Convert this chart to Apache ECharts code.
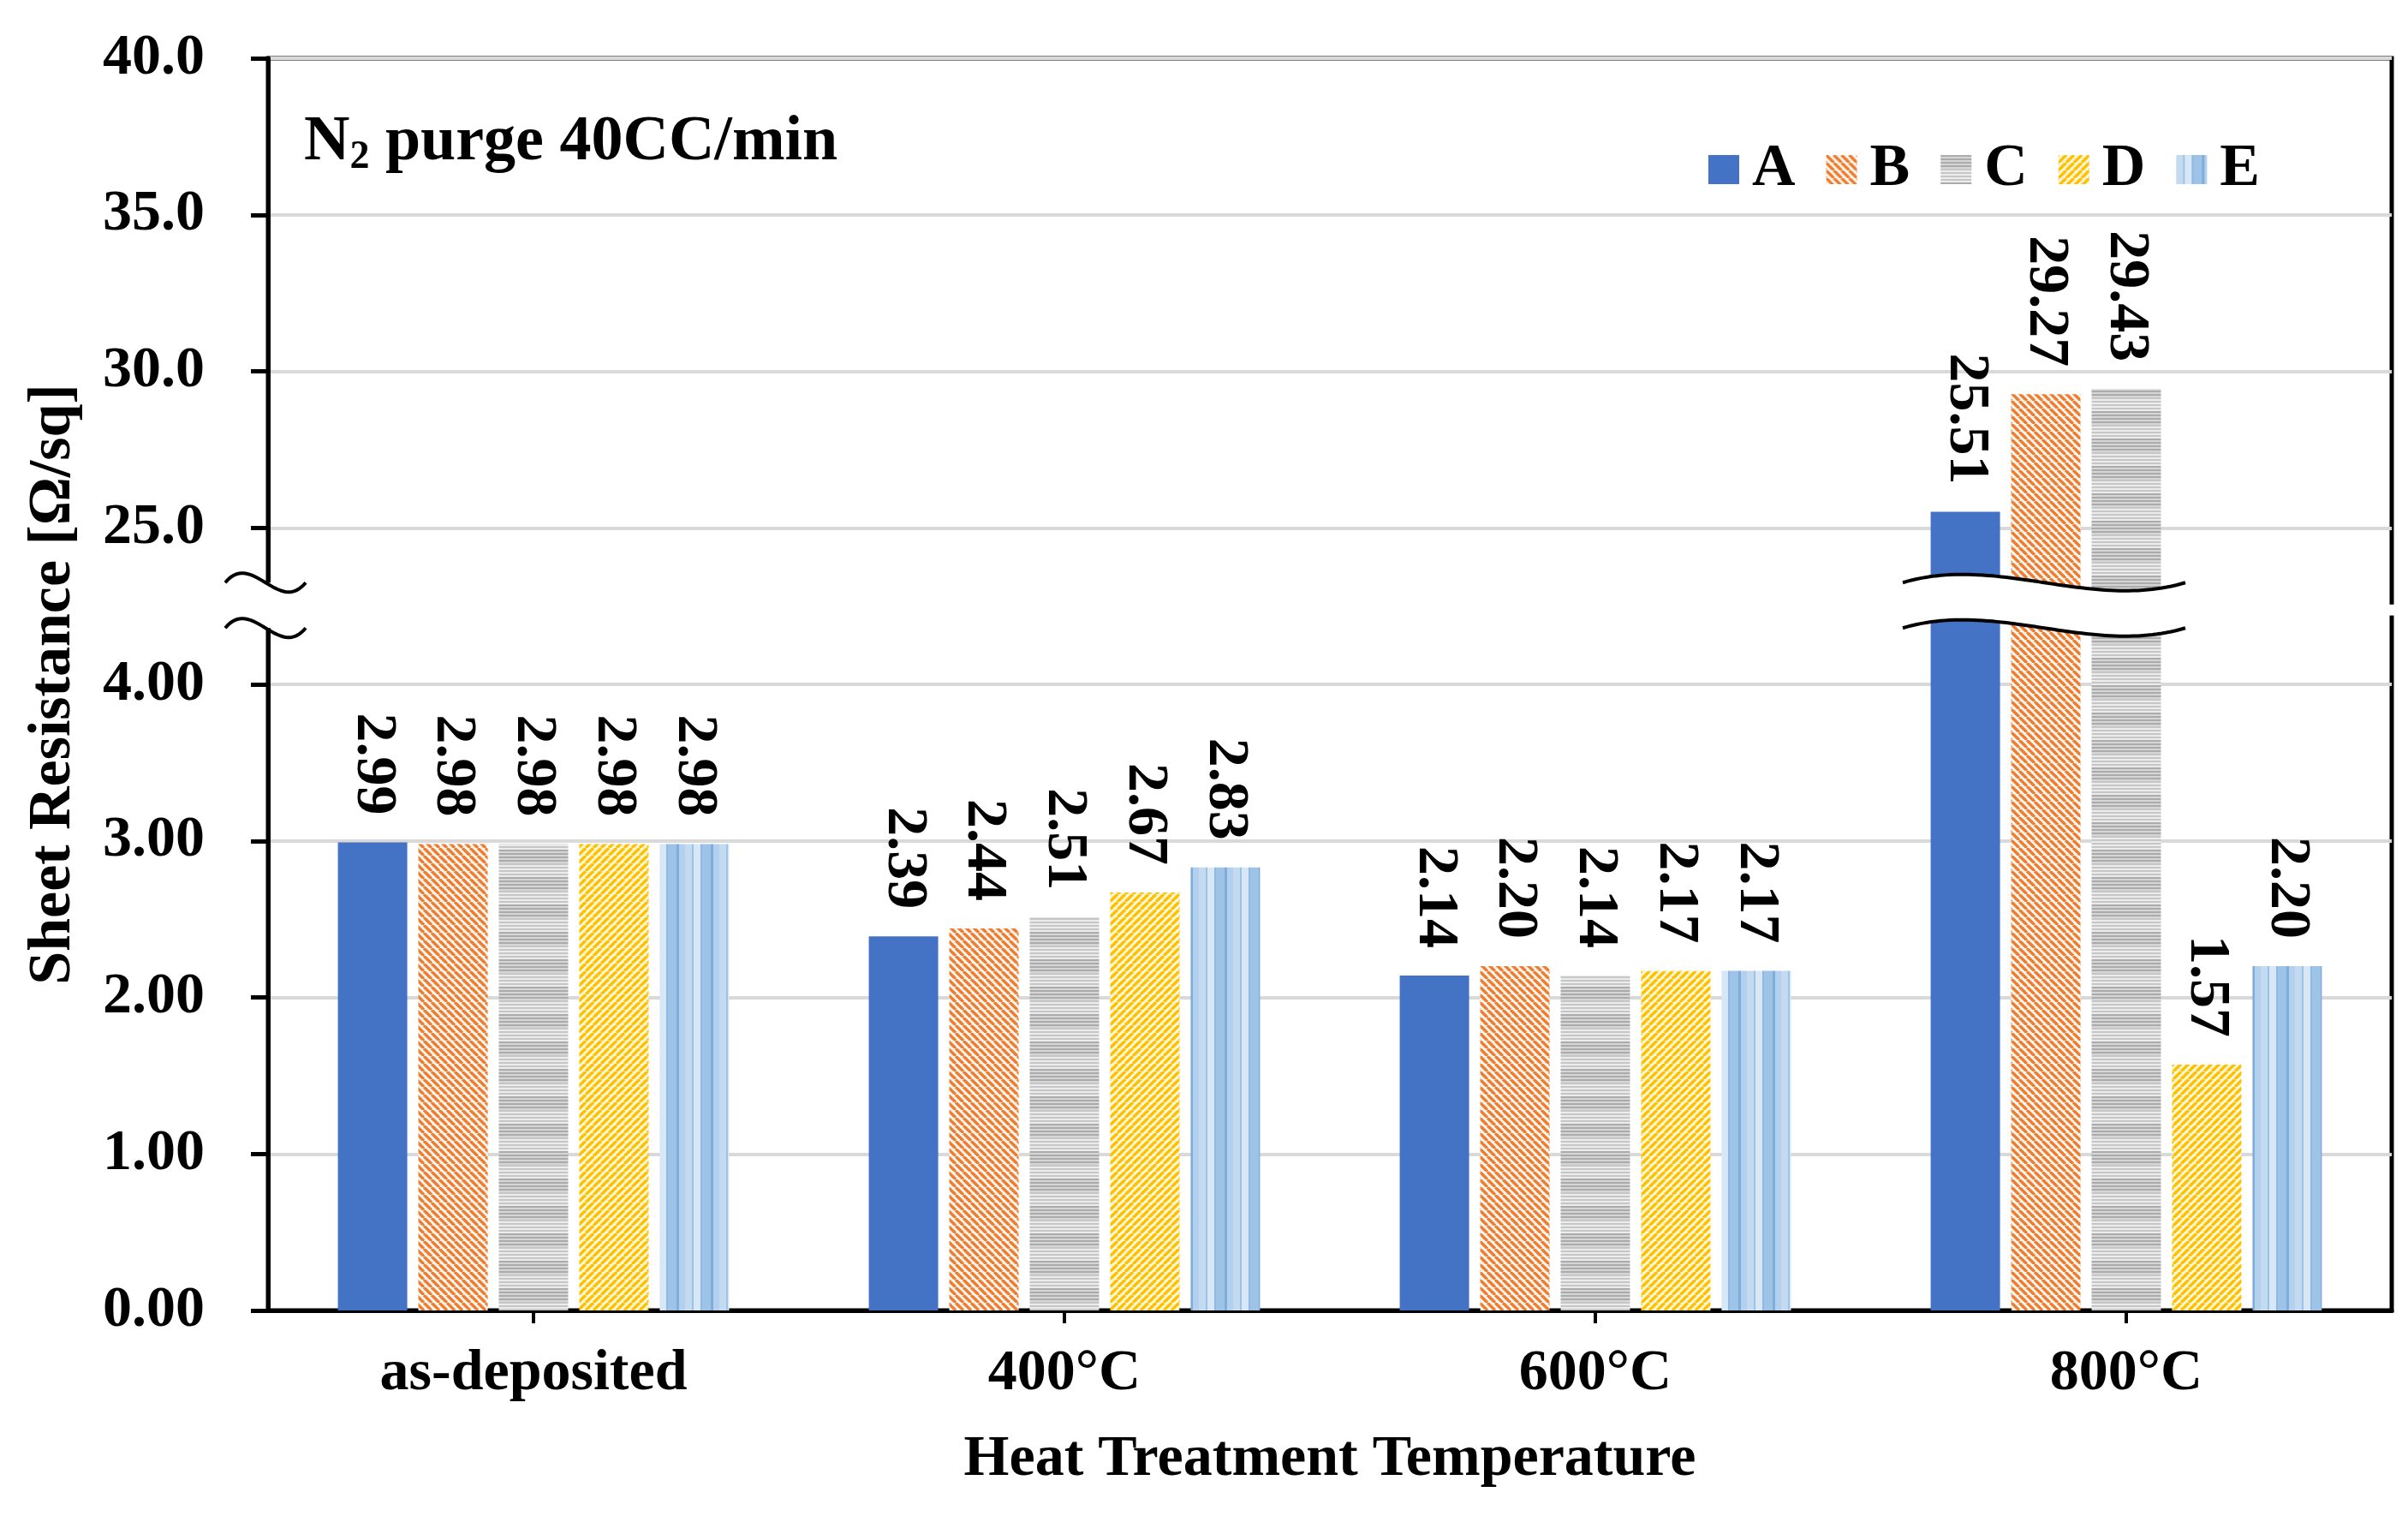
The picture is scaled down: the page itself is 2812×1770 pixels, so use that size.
<!DOCTYPE html>
<html>
<head>
<meta charset="utf-8">
<script src="https://cdn.jsdelivr.net/npm/echarts@6/dist/echarts.min.js"></script>
<style>
html,body{margin:0;padding:0;background:#fff;}
#chart{width:2812px;height:1770px;}
</style>
</head>
<body>
<div id="chart"></div>
<script>
// ---------- data ----------
const categories = ['as-deposited', '400°C', '600°C', '800°C'];
const seriesNames = ['A', 'B', 'C', 'D', 'E'];
const valuesA = [2.99, 2.39, 2.14, 25.51];
const valuesB = [2.98, 2.44, 2.20, 29.27];
const valuesC = [2.98, 2.51, 2.14, 29.43];
const valuesD = [2.98, 2.67, 2.17, 1.57];
const valuesE = [2.98, 2.83, 2.17, 2.20];
const yTickLabels = ['0.00', '1.00', '2.00', '3.00', '4.00', '25.0', '30.0', '35.0', '40.0'];
const lowerMax = 4;      // lower segment 0..4 (1 per step)
const upperMin = 25;     // upper segment 25..40 (5 per step)
const upperStep = 5;

// broken-axis mapping: value -> axis position
function toAxis(v) {
  return v <= lowerMax ? v : (lowerMax + 1) + (v - upperMin) / upperStep;
}

// ---------- patterns ----------
function diagPattern(line, bg, dir, s, w) {
  const c = document.createElement('canvas');
  c.width = s; c.height = s;
  const ctx = c.getContext('2d');
  ctx.fillStyle = bg; ctx.fillRect(0, 0, s, s);
  ctx.strokeStyle = line; ctx.lineWidth = w;
  for (let k = -1; k <= 1; k++) {
    ctx.beginPath();
    if (dir === 'down') { ctx.moveTo(k * s, 0); ctx.lineTo(k * s + s, s); }
    else { ctx.moveTo(k * s, s); ctx.lineTo(k * s + s, 0); }
    ctx.stroke();
  }
  return { image: c, repeat: 'repeat' };
}
function horizPattern() {
  const c = document.createElement('canvas');
  c.width = 4; c.height = 32;
  const ctx = c.getContext('2d');
  for (let y = 0; y < 32; y++) {
    let col;
    if (y % 4 < 2) col = y < 16 ? '#ABABAB' : '#C6C6C6';
    else col = y < 16 ? '#D6D6D6' : '#ECECEC';
    ctx.fillStyle = col; ctx.fillRect(0, y, 4, 1);
  }
  return { image: c, repeat: 'repeat' };
}
function vertPattern() {
  const c = document.createElement('canvas');
  c.width = 40; c.height = 4;
  const ctx = c.getContext('2d');
  const cols = [[0,8,'#C3DAF0'],[8,10,'#9DC3E6'],[10,18,'#D8E7F6'],[18,20,'#8FB9E3'],
                [20,30,'#9DC3E6'],[30,33,'#7FAEDD'],[33,40,'#B3D0EC']];
  cols.forEach(([a,b,col]) => { ctx.fillStyle = col; ctx.fillRect(a, 0, b - a, 4); });
  return { image: c, repeat: 'repeat' };
}

const fills = [
  '#4472C4',
  diagPattern('#ED7D31', '#FFF4EC', 'down', 9, 3.4),
  horizPattern(),
  diagPattern('#FFC000', '#FFF7D9', 'up', 9, 3.4),
  vertPattern()
];
const allValues = [valuesA, valuesB, valuesC, valuesD, valuesE];

const FONT = 'Liberation Serif';
const chart = echarts.init(document.getElementById('chart'));

const series = seriesNames.map((name, i) => ({
  name: name,
  type: 'bar',
  barWidth: 81,
  barGap: '16%',
  data: allValues[i].map(v => toAxis(v)),
  itemStyle: { color: fills[i] },
  label: {
    show: true,
    position: 'top',
    rotate: -90,
    align: 'right',
    verticalAlign: 'middle',
    distance: 32,
    fontFamily: FONT,
    fontWeight: 'bold',
    fontSize: 68,
    color: '#000',
    formatter: p => allValues[i][p.dataIndex].toFixed(2)
  }
}));

chart.setOption({
  animation: false,
  backgroundColor: '#fff',
  title: {
    left: 350,
    top: 122,
    text: '{n|N}{s|2}{n| purge 40CC/min}',
    textStyle: {
      rich: {
        n: { fontFamily: FONT, fontWeight: 'bold', fontSize: 74, lineHeight: 80, color: '#000' },
        s: { fontFamily: FONT, fontWeight: 'bold', fontSize: 46, lineHeight: 46, verticalAlign: 'bottom', color: '#000' }
      }
    }
  },
  legend: {
    left: 1990,
    top: 158,
    icon: 'rect',
    itemWidth: 36,
    itemHeight: 34,
    itemGap: 36,
    textStyle: { fontFamily: FONT, fontWeight: 'bold', fontSize: 70, color: '#000', padding: [0, 0, 0, 10] },
    data: seriesNames
  },
  grid: {
    left: 313, right: 19, top: 68, bottom: 240,
    containLabel: false,
    outerBoundsMode: 'none',
    show: true,
    borderColor: '#000',
    borderWidth: 5,
    backgroundColor: 'transparent'
  },
  xAxis: {
    type: 'category',
    data: categories,
    axisLine: { lineStyle: { color: '#000', width: 5 } },
    axisTick: { show: true, alignWithLabel: true, length: 15, lineStyle: { color: '#000', width: 4 } },
    axisLabel: { fontFamily: FONT, fontWeight: 'bold', fontSize: 68, color: '#000', margin: 40 },
    name: 'Heat Treatment Temperature',
    nameLocation: 'middle',
    nameGap: 140,
    nameTextStyle: { fontFamily: FONT, fontWeight: 'bold', fontSize: 68, color: '#000' }
  },
  yAxis: {
    type: 'value',
    min: 0,
    max: 8,
    interval: 1,
    axisLine: { show: true, lineStyle: { color: '#000', width: 5 } },
    axisTick: { show: true, inside: false, length: 20, lineStyle: { color: '#000', width: 5 } },
    splitLine: { show: true, lineStyle: { color: '#D9D9D9', width: 4 } },
    axisLabel: {
      fontFamily: FONT, fontWeight: 'bold', fontSize: 68, color: '#000', margin: 74,
      formatter: v => yTickLabels[Math.round(v)]
    },
    name: 'Sheet Resistance [Ω/sq]',
    nameLocation: 'middle',
    nameGap: 215,
    nameTextStyle: { fontFamily: FONT, fontWeight: 'bold', fontSize: 70, color: '#000' }
  },
  series: series
});

// ---------- break decorations ----------
const breakUpper = 4.65, breakLower = 4.36;
const yU = chart.convertToPixel({ yAxisIndex: 0 }, breakUpper);
const yL = chart.convertToPixel({ yAxisIndex: 0 }, breakLower);
const axisX = 313;
const rightX = 2812 - 19;
const cx800 = chart.convertToPixel({ xAxisIndex: 0 }, 3);

// sample an S-shaped cubic curve into points
function sPoints(x1, x2, y, d, n) {
  const w = x2 - x1;
  const p0 = [x1, y], p1 = [x1 + w / 3, y - d], p2 = [x1 + 2 * w / 3, y + d], p3 = [x2, y];
  const pts = [];
  for (let i = 0; i <= n; i++) {
    const t = i / n, u = 1 - t;
    const a = u * u * u, b = 3 * u * u * t, c = 3 * u * t * t, e = t * t * t;
    pts.push([a * p0[0] + b * p1[0] + c * p2[0] + e * p3[0], a * p0[1] + b * p1[1] + c * p2[1] + e * p3[1]]);
  }
  return pts;
}
function curve(pts) {
  return { type: 'polyline', z: 120, shape: { points: pts }, style: { stroke: '#000', lineWidth: 4, fill: null } };
}

const lx1 = axisX - 50, lx2 = axisX + 44, ld = 38;
const leftUp = sPoints(lx1, lx2, yU, ld, 40);
const leftLo = sPoints(lx1, lx2, yL, ld, 40);

const bx1 = cx800 - 261, bx2 = cx800 + 69, bd = 33;
const bandUp = sPoints(bx1, bx2, yU, bd, 60);
const bandLo = sPoints(bx1, bx2, yL, bd, 60);
const bandPoly = bandUp.concat(bandLo.slice().reverse());

const yG1 = chart.convertToPixel({ yAxisIndex: 0 }, 4.51);
const yG2 = chart.convertToPixel({ yAxisIndex: 0 }, 4.44);

chart.setOption({
  graphic: [
    { type: 'rect', z: 110, shape: { x: axisX - 10, y: yU, width: 20, height: yL - yU }, style: { fill: '#fff' } },
    curve(leftUp),
    curve(leftLo),
    { type: 'polygon', z: 110, shape: { points: bandPoly }, style: { fill: '#fff' } },
    curve(bandUp),
    curve(bandLo),
    { type: 'rect', z: 110, shape: { x: rightX - 8, y: yG1, width: 16, height: yG2 - yG1 }, style: { fill: '#fff' } }
  ]
});
</script>
</body>
</html>
